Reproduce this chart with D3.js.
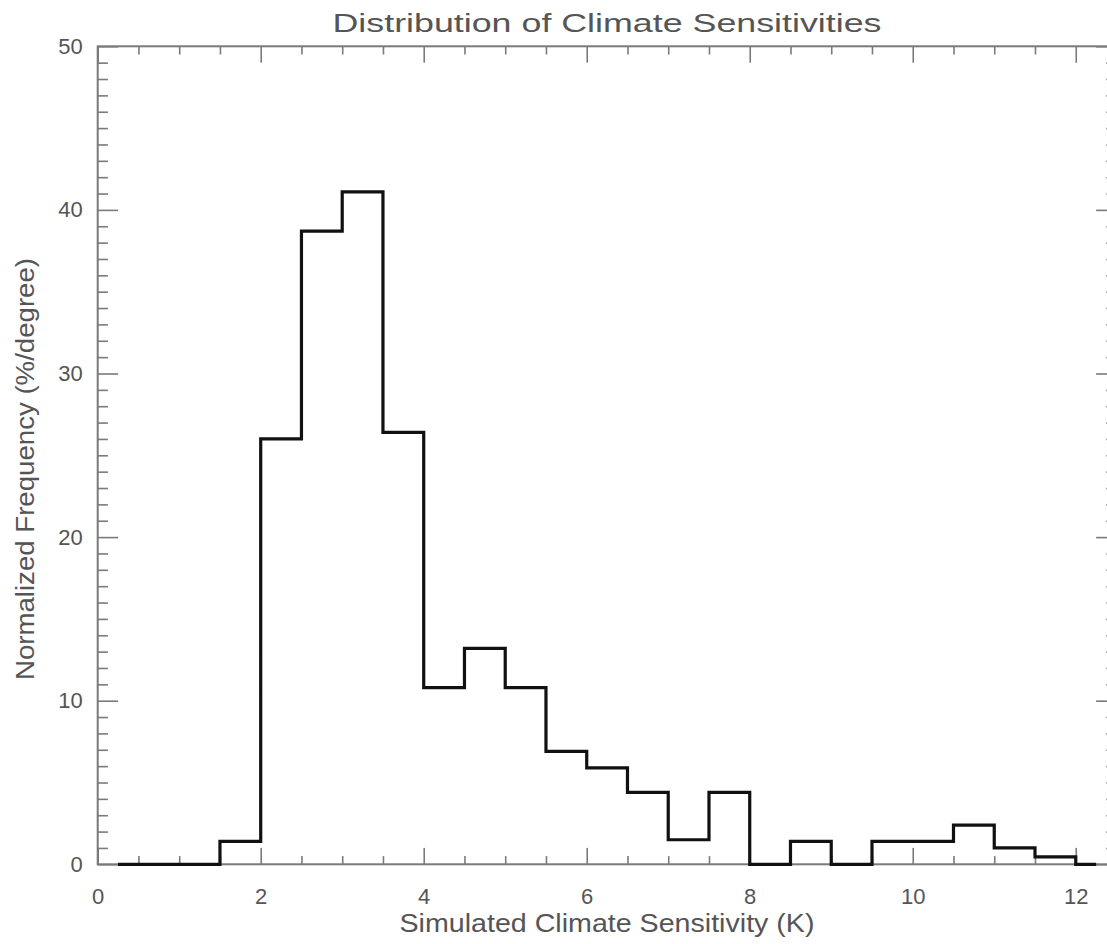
<!DOCTYPE html>
<html>
<head>
<meta charset="utf-8">
<script src="https://cdn.jsdelivr.net/npm/d3@7"></script>
<style>
  html, body { margin: 0; padding: 0; background: #fff; overflow: hidden; }
  svg { display: block; }
  text { font-family: "Liberation Sans", "DejaVu Sans", sans-serif; fill: #555; }
</style>
</head>
<body>
<svg id="chart" width="1107" height="944"></svg>
<script>
// ---- data ----
const binCenters = [0.25, 0.75, 1.25, 1.75, 2.25, 2.75, 3.25, 3.75, 4.25, 4.75, 5.25, 5.75,
                    6.25, 6.75, 7.25, 7.75, 8.25, 8.75, 9.25, 9.75, 10.25, 10.75, 11.25, 11.75, 12.25];
const frequency  = [0, 0, 0, 1.4, 26.0, 38.7, 41.1, 26.4, 10.8, 13.2, 10.8, 6.9,
                    5.9, 4.4, 1.5, 4.4, 0, 1.4, 0, 1.4, 1.4, 2.4, 1.0, 0.45, 0];
const xMajorTicks = [0, 2, 4, 6, 8, 10, 12];
const xMinorTicks = [0.5, 1, 1.5, 2.5, 3, 3.5, 4.5, 5, 5.5, 6.5, 7, 7.5, 8.5, 9, 9.5, 10.5, 11, 11.5];
const yMajorTicks = [0, 10, 20, 30, 40, 50];
const yMinorTicks = [1,2,3,4,5,6,7,8,9,11,12,13,14,15,16,17,18,19,21,22,23,24,25,26,27,28,29,
                     31,32,33,34,35,36,37,38,39,41,42,43,44,45,46,47,48,49];
const titleText = "Distribution of Climate Sensitivities";
const xLabel = "Simulated Climate Sensitivity (K)";
const yLabel = "Normalized Frequency (%/degree)";

// ---- layout ----
const pLeft = 97.7, pRight = 1116.5, pTop = 46.3, pBottom = 864.3;
const axisColor = "#7a7a7a";

const svg = d3.select("#chart");
const x = d3.scaleLinear().domain([0, 12.5]).range([pLeft, pRight]);
const y = d3.scaleLinear().domain([0, 50]).range([pBottom, pTop]);

const majX = 16.4, minX = 8.2, majY = 20.4, minY = 10.2;

function styleAxis(g) {
  g.select(".domain").remove();
  g.selectAll("line").attr("stroke", axisColor).attr("stroke-width", 1.6);
  g.selectAll("text").attr("fill", "#555").style("font-size", "22px")
    .style("font-family", '"Liberation Sans", "DejaVu Sans", sans-serif');
}

// bottom axis
svg.append("g").attr("transform", `translate(0,${pBottom})`)
  .call(d3.axisBottom(x).tickValues(xMajorTicks).tickFormat(d3.format("d"))
    .tickSizeInner(-majX).tickSizeOuter(0).tickPadding(24))
  .call(styleAxis);
svg.append("g").attr("transform", `translate(0,${pBottom})`)
  .call(d3.axisBottom(x).tickValues(xMinorTicks).tickFormat("").tickSizeInner(-minX).tickSizeOuter(0))
  .call(styleAxis);
// top axis
svg.append("g").attr("transform", `translate(0,${pTop})`)
  .call(d3.axisTop(x).tickValues(xMajorTicks).tickFormat("").tickSizeInner(-majX).tickSizeOuter(0))
  .call(styleAxis);
svg.append("g").attr("transform", `translate(0,${pTop})`)
  .call(d3.axisTop(x).tickValues(xMinorTicks).tickFormat("").tickSizeInner(-minX).tickSizeOuter(0))
  .call(styleAxis);
// left axis
svg.append("g").attr("transform", `translate(${pLeft},0)`)
  .call(d3.axisLeft(y).tickValues(yMajorTicks).tickFormat(d3.format("d"))
    .tickSizeInner(-majY).tickSizeOuter(0).tickPadding(15))
  .call(styleAxis);
svg.append("g").attr("transform", `translate(${pLeft},0)`)
  .call(d3.axisLeft(y).tickValues(yMinorTicks).tickFormat("").tickSizeInner(-minY).tickSizeOuter(0))
  .call(styleAxis);
// right axis
svg.append("g").attr("transform", `translate(${pRight},0)`)
  .call(d3.axisRight(y).tickValues(yMajorTicks).tickFormat("").tickSizeInner(-majY).tickSizeOuter(0))
  .call(styleAxis);
svg.append("g").attr("transform", `translate(${pRight},0)`)
  .call(d3.axisRight(y).tickValues(yMinorTicks).tickFormat("").tickSizeInner(-minY).tickSizeOuter(0))
  .call(styleAxis);

// frame
svg.append("rect")
  .attr("x", pLeft).attr("y", pTop)
  .attr("width", pRight - pLeft).attr("height", pBottom - pTop)
  .attr("fill", "none").attr("stroke", axisColor).attr("stroke-width", 2);

// histogram step line
const pts = binCenters.map((c, i) => [c, frequency[i]]);
const line = d3.line().x(d => x(d[0])).y(d => y(d[1])).curve(d3.curveStep);
svg.append("path")
  .attr("d", line(pts))
  .attr("fill", "none")
  .attr("stroke", "#111")
  .attr("stroke-width", 3.2)
  .attr("stroke-linejoin", "miter");

// title & labels
svg.append("text")
  .attr("x", 607).attr("y", 32)
  .attr("text-anchor", "middle")
  .attr("textLength", 549).attr("lengthAdjust", "spacingAndGlyphs")
  .style("font-size", "26px")
  .text(titleText);

svg.append("text")
  .attr("x", 607).attr("y", 932)
  .attr("text-anchor", "middle")
  .attr("textLength", 415).attr("lengthAdjust", "spacingAndGlyphs")
  .style("font-size", "25px")
  .text(xLabel);

svg.append("text")
  .attr("transform", "translate(34,469) rotate(-90)")
  .attr("text-anchor", "middle")
  .attr("textLength", 422).attr("lengthAdjust", "spacingAndGlyphs")
  .style("font-size", "25px")
  .text(yLabel);
</script>
</body>
</html>
